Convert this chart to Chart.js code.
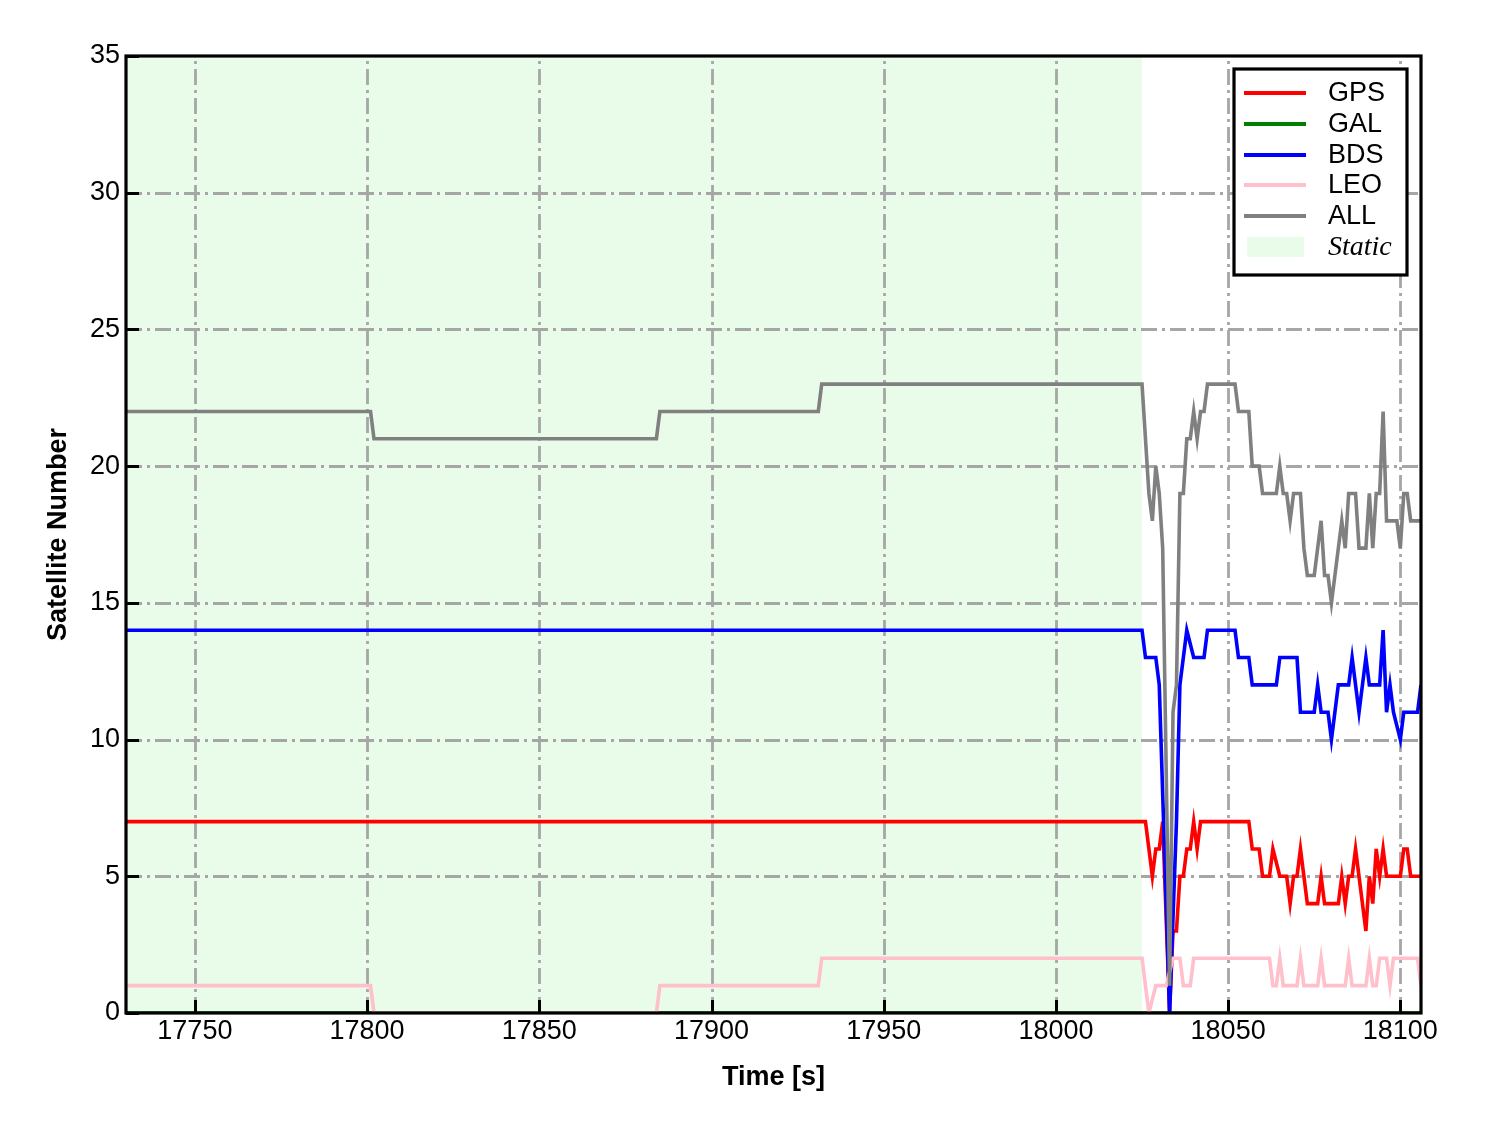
<!DOCTYPE html>
<html>
<head>
<meta charset="utf-8">
<script src="https://cdn.jsdelivr.net/npm/chart.js@4.4.1/dist/chart.umd.min.js"></script>
<style>
  html, body { margin: 0; padding: 0; background: #ffffff; }
  #wrap { width: 1488px; height: 1133px; position: relative; }
  canvas { display: block; }
</style>
</head>
<body>
<div id="wrap"><canvas id="c" width="1488" height="1133"></canvas></div>
<script>
// ---------------- data ----------------
const xTicks = [17750, 17800, 17850, 17900, 17950, 18000, 18050, 18100];
const yTicks = [0, 5, 10, 15, 20, 25, 30, 35];
const timeRange = [17730, 18106];
const staticPeriod = [17730, 18025];

const gpsT = [17730, 18026, 18028, 18029, 18030, 18031, 18033, 18034, 18035, 18036, 18037, 18038, 18039, 18040, 18041, 18042, 18056, 18057, 18059, 18060, 18062, 18063, 18065, 18067, 18068, 18069, 18070, 18071, 18073, 18076, 18077, 18078, 18082, 18083, 18084, 18085, 18086, 18087, 18090, 18091, 18092, 18093, 18094, 18095, 18096, 18100, 18101, 18102, 18103, 18106];
const gpsN = [7, 7, 5, 6, 6, 7, 0, 3, 3, 5, 5, 6, 6, 7, 6, 7, 7, 6, 6, 5, 5, 6, 5, 5, 4, 5, 5, 6, 4, 4, 5, 4, 4, 5, 4, 5, 5, 6, 3, 5, 4, 6, 5, 6, 5, 5, 6, 6, 5, 5];

const galT = [17730, 18106];
const galN = [0, 0];

const bdsT = [17730, 18025, 18026, 18029, 18030, 18033, 18035, 18036, 18038, 18040, 18043, 18044, 18052, 18053, 18056, 18057, 18064, 18065, 18070, 18071, 18075, 18076, 18077, 18079, 18080, 18082, 18085, 18086, 18088, 18090, 18091, 18094, 18095, 18096, 18097, 18098, 18100, 18101, 18105, 18106];
const bdsN = [14, 14, 13, 13, 12, 0, 7, 12, 14, 13, 13, 14, 14, 13, 13, 12, 12, 13, 13, 11, 11, 12, 11, 11, 10, 12, 12, 13, 11, 13, 12, 12, 14, 11, 12, 11, 10, 11, 11, 12];

const leoT = [17730, 17801, 17802, 17884, 17885, 17931, 17932, 18025, 18027, 18029, 18032, 18034, 18036, 18037, 18039, 18040, 18062, 18063, 18064, 18065, 18066, 18070, 18071, 18072, 18076, 18077, 18078, 18084, 18085, 18086, 18090, 18091, 18092, 18093, 18094, 18096, 18097, 18098, 18105, 18106];
const leoN = [1, 1, 0, 0, 1, 1, 2, 2, 0, 1, 1, 2, 2, 1, 1, 2, 2, 1, 1, 2, 1, 1, 2, 1, 1, 2, 1, 1, 2, 1, 1, 2, 1, 1, 2, 2, 1, 2, 2, 1];

const allT = [17730, 17801, 17802, 17884, 17885, 17931, 17932, 18025, 18027, 18028, 18029, 18030, 18031, 18033, 18034, 18035, 18036, 18037, 18038, 18039, 18040, 18041, 18042, 18043, 18044, 18052, 18053, 18056, 18057, 18059, 18060, 18064, 18065, 18066, 18067, 18068, 18069, 18071, 18072, 18073, 18075, 18077, 18078, 18079, 18080, 18083, 18084, 18085, 18087, 18088, 18090, 18091, 18092, 18093, 18094, 18095, 18096, 18099, 18100, 18101, 18102, 18103, 18106];
const allN = [22, 22, 21, 21, 22, 22, 23, 23, 19, 18, 20, 19, 17, 1, 11, 12, 19, 19, 21, 21, 22, 21, 22, 22, 23, 23, 22, 22, 20, 20, 19, 19, 20, 19, 19, 18, 19, 19, 17, 16, 16, 18, 16, 16, 15, 18, 17, 19, 19, 17, 17, 19, 17, 19, 19, 22, 18, 18, 17, 19, 19, 18, 18];

const seriesNames = ['GPS', 'GAL', 'BDS', 'LEO', 'ALL'];
const seriesColors = ['#ff0000', '#008000', '#0000ff', '#ffc0cb', '#808080'];
const staticLabel = 'Static';

// ---------------- chart ----------------
const SANS = "'Liberation Sans', Arial, sans-serif";
const SERIF = "'Liberation Serif', 'Times New Roman', serif";
const staticFill = 'rgba(144,238,144,0.2)';

function pts(T, N) { return T.map((t, i) => ({ x: t, y: N[i] })); }
const seriesData = [pts(gpsT, gpsN), pts(galT, galN), pts(bdsT, bdsN), pts(leoT, leoN), pts(allT, allN)];

const datasets = seriesNames.map((name, i) => ({
  label: name,
  data: seriesData[i],
  borderColor: seriesColors[i],
  backgroundColor: seriesColors[i],
  borderWidth: 3.6,
  pointRadius: 0,
  tension: 0,
  fill: false,
  order: seriesNames.length - i
}));

const decorPlugin = {
  id: 'decor',
  beforeDraw(chart) {
    const c = chart.ctx;
    c.save();
    c.fillStyle = '#ffffff';
    c.fillRect(0, 0, chart.width, chart.height);
    c.restore();
  },
  beforeDatasetsDraw(chart) {
    const c = chart.ctx, xs = chart.scales.x, ys = chart.scales.y, a = chart.chartArea;
    c.save();
    // static region
    const x0 = xs.getPixelForValue(staticPeriod[0]);
    const x1 = xs.getPixelForValue(staticPeriod[1]);
    c.fillStyle = staticFill;
    c.fillRect(x0, ys.getPixelForValue(35), x1 - x0, ys.getPixelForValue(0) - ys.getPixelForValue(35));
    // grid lines dash-dot
    c.strokeStyle = '#a6a6a6';
    c.lineWidth = 2.8;
    c.setLineDash([16, 5, 3, 5]);
    xTicks.forEach(v => {
      const px = Math.round(xs.getPixelForValue(v)) + 0.5;
      c.beginPath(); c.moveTo(px, a.bottom); c.lineTo(px, a.top); c.stroke();
    });
    yTicks.forEach(v => {
      if (v === 0 || v === 35) return;
      const py = Math.round(ys.getPixelForValue(v)) + 0.5;
      c.beginPath(); c.moveTo(a.left, py); c.lineTo(a.right, py); c.stroke();
    });
    c.restore();
  },
  afterDatasetsDraw(chart) {
    const c = chart.ctx, xs = chart.scales.x, ys = chart.scales.y, a = chart.chartArea;
    c.save();
    c.setLineDash([]);
    // inward ticks
    c.strokeStyle = '#000';
    c.lineWidth = 3;
    xTicks.forEach(v => {
      const px = Math.round(xs.getPixelForValue(v)) + 0.5;
      c.beginPath(); c.moveTo(px, a.bottom); c.lineTo(px, a.bottom - 13); c.stroke();
    });
    yTicks.forEach(v => {
      const py = Math.round(ys.getPixelForValue(v)) + 0.5;
      c.beginPath(); c.moveTo(a.left, py); c.lineTo(a.left + 13, py); c.stroke();
    });
    // frame
    c.lineWidth = 3.2;
    c.strokeRect(a.left, a.top, a.right - a.left, a.bottom - a.top);

    // legend
    const bx = 1234, by = 69, bw = 173, bh = 206;
    c.fillStyle = '#ffffff';
    c.fillRect(bx, by, bw, bh);
    c.lineWidth = 3.2;
    c.strokeStyle = '#000';
    c.strokeRect(bx, by, bw, bh);
    const rows = [93, 124, 155, 185, 216];
    seriesNames.forEach((name, i) => {
      c.strokeStyle = seriesColors[i];
      c.lineWidth = 3.8;
      c.beginPath(); c.moveTo(1244, rows[i]); c.lineTo(1306, rows[i]); c.stroke();
      c.fillStyle = '#000';
      c.font = '27px ' + SANS;
      c.textBaseline = 'middle';
      c.textAlign = 'left';
      c.fillText(name, 1328, rows[i] + 1);
    });
    c.fillStyle = staticFill;
    c.fillRect(1247, 237, 57, 20);
    c.fillStyle = '#000';
    c.font = 'italic 28px ' + SERIF;
    c.textBaseline = 'middle';
    c.fillText(staticLabel, 1328, 248);
    c.restore();
  }
};

new Chart(document.getElementById('c'), {
  type: 'line',
  data: { datasets },
  options: {
    responsive: false,
    animation: false,
    devicePixelRatio: 1,
    layout: { padding: { top: 56, right: 67, left: 0, bottom: 0 } },
    plugins: { legend: { display: false }, tooltip: { enabled: false } },
    scales: {
      x: {
        type: 'linear',
        min: timeRange[0],
        max: timeRange[1],
        afterBuildTicks: s => { s.ticks = xTicks.map(v => ({ value: v })); },
        afterFit: s => { s.height = 120; },
        grid: { display: false, drawTicks: false },
        border: { display: false },
        ticks: {
          color: '#000',
          font: { family: SANS, size: 27 },
          padding: 2,
          maxRotation: 0,
          autoSkip: false,
          callback: v => String(v)
        },
        title: {
          display: true,
          text: 'Time [s]',
          color: '#000',
          font: { family: SANS, size: 27, weight: 'bold' },
          padding: { top: 0, bottom: 39 }
        }
      },
      y: {
        type: 'linear',
        min: 0,
        max: 35,
        afterBuildTicks: s => { s.ticks = yTicks.map(v => ({ value: v })); },
        afterFit: s => { s.width = 126; },
        grid: { display: false, drawTicks: false },
        border: { display: false },
        ticks: {
          color: '#000',
          font: { family: SANS, size: 27 },
          padding: 6,
          autoSkip: false,
          callback: v => String(v)
        },
        title: {
          display: true,
          text: 'Satellite Number',
          color: '#000',
          font: { family: SANS, size: 27, weight: 'bold' },
          padding: { top: 42, bottom: 0 }
        }
      }
    }
  },
  plugins: [decorPlugin]
});
</script>
</body>
</html>
